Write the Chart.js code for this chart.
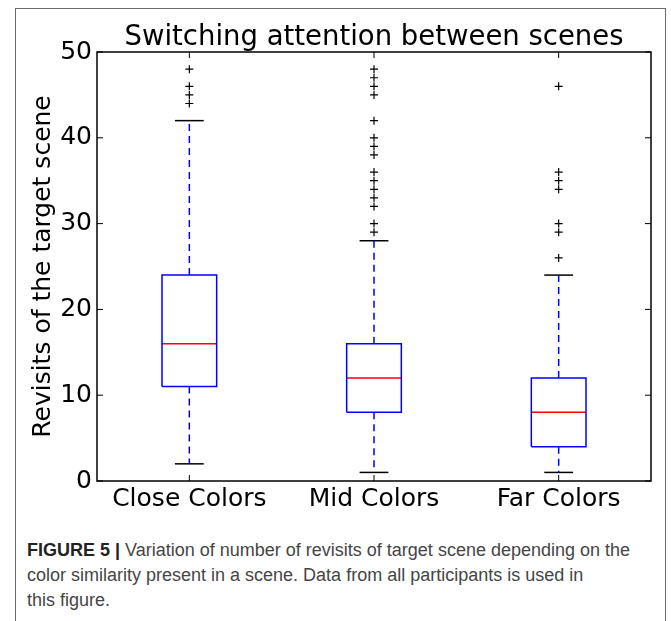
<!DOCTYPE html>
<html>
<head>
<meta charset="utf-8">
<script src="https://cdn.jsdelivr.net/npm/chart.js@4.4.1/dist/chart.umd.min.js"></script>
<style>
  html, body { margin: 0; padding: 0; background: #fff; }
  body { width: 671px; height: 621px; position: relative; overflow: hidden; }
  #frame { position: absolute; left: 15px; top: 8px; width: 651px; height: 640px; border: 1.5px solid #6a6a6a; box-sizing: border-box; }
  #wrap { position: absolute; left: 0; top: 0; width: 671px; height: 520px; }
  #caption { position: absolute; left: 27px; top: 538px; width: 640px; white-space: nowrap; font-family: "Liberation Sans", Arial, sans-serif; font-size: 18px; line-height: 25px; color: #454545; }
  #caption b { color: #222; }
</style>
</head>
<body>
<div id="frame"></div>
<div id="wrap"><canvas id="c" width="671" height="520"></canvas></div>
<div id="caption"><b>FIGURE 5 |</b> Variation of number of revisits of target scene depending on the<br>color similarity present in a scene. Data from all participants is used in<br>this figure.</div>
<script>
const categories = ['Close Colors', 'Mid Colors', 'Far Colors'];
const whiskerLow  = [2, 1, 1];
const q1          = [11, 8, 4];
const median      = [16, 12, 8];
const q3          = [24, 16, 12];
const whiskerHigh = [42, 28, 24];
const outliersClose = [44, 45, 46, 48];
const outliersMid   = [29, 30, 32, 33, 34, 35, 36, 38, 39, 40, 42, 45, 46, 47, 48];
const outliersFar   = [26, 29, 30, 34, 35, 36, 46];
const outliers = [outliersClose, outliersMid, outliersFar];
const yTicks = [0, 10, 20, 30, 40, 50];
const chartTitle = 'Switching attention between scenes';
const yTitle = 'Revisits of the target scene';

const boxHalf = 0.148;
const capHalf = 0.078;

const datasets = [];
categories.forEach((cat, i) => {
  datasets.push({ data: [{x: i, y: q3[i]}, {x: i, y: whiskerHigh[i]}], borderColor: '#0000ff', borderWidth: 1.5, borderDash: [7, 5], showLine: true, pointRadius: 0 });
  datasets.push({ data: [{x: i, y: q1[i]}, {x: i, y: whiskerLow[i]}], borderColor: '#0000ff', borderWidth: 1.5, borderDash: [7, 5], showLine: true, pointRadius: 0 });
  datasets.push({ data: [{x: i - capHalf, y: whiskerHigh[i]}, {x: i + capHalf, y: whiskerHigh[i]}], borderColor: '#000', borderWidth: 1.5, showLine: true, pointRadius: 0 });
  datasets.push({ data: [{x: i - capHalf, y: whiskerLow[i]}, {x: i + capHalf, y: whiskerLow[i]}], borderColor: '#000', borderWidth: 1.5, showLine: true, pointRadius: 0 });
  datasets.push({ data: [
      {x: i - boxHalf, y: q1[i]}, {x: i + boxHalf, y: q1[i]},
      {x: i + boxHalf, y: q3[i]}, {x: i - boxHalf, y: q3[i]},
      {x: i - boxHalf, y: q1[i]}],
    borderColor: '#0000ff', borderWidth: 1.5, showLine: true, pointRadius: 0, tension: 0 });
  datasets.push({ data: [{x: i - boxHalf, y: median[i]}, {x: i + boxHalf, y: median[i]}], borderColor: '#ff0000', borderWidth: 1.5, showLine: true, pointRadius: 0 });
  datasets.push({ data: outliers[i].map(v => ({x: i, y: v})), pointStyle: 'cross', pointRadius: 4, pointBorderColor: '#000', pointBorderWidth: 1.2, showLine: false });
});

const framePlugin = {
  id: 'framePlugin',
  afterDatasetsDraw(chart) {
    const {ctx, chartArea: a, scales} = chart;
    ctx.save();
    ctx.strokeStyle = '#000';
    ctx.lineWidth = 1.5;
    ctx.strokeRect(a.left, a.top, a.right - a.left, a.bottom - a.top);
    ctx.lineWidth = 1;
    ctx.beginPath();
    categories.forEach((c, i) => {
      const px = scales.x.getPixelForValue(i);
      ctx.moveTo(px, a.bottom); ctx.lineTo(px, a.bottom - 6);
      ctx.moveTo(px, a.top); ctx.lineTo(px, a.top + 6);
    });
    yTicks.forEach(v => {
      const py = scales.y.getPixelForValue(v);
      ctx.moveTo(a.left, py); ctx.lineTo(a.left + 6, py);
      ctx.moveTo(a.right, py); ctx.lineTo(a.right - 6, py);
    });
    ctx.stroke();
    ctx.restore();
  }
};

new Chart(document.getElementById('c'), {
  type: 'scatter',
  data: { datasets },
  options: {
    responsive: false,
    animation: false,
    layout: { padding: { left: 0, right: 20, top: 0, bottom: 0 } },
    plugins: {
      legend: { display: false },
      tooltip: { enabled: false },
      title: { display: false }
    },
    scales: {
      x: {
        type: 'linear',
        min: -0.5, max: 2.5,
        grid: { display: false, drawTicks: false },
        border: { display: false },
        afterBuildTicks(scale) { scale.ticks = categories.map((c, i) => ({ value: i })); },
        afterFit(scale) { scale.height = 39; },
        ticks: {
          color: '#000',
          font: { family: 'DejaVu Sans', size: 25 },
          padding: 3,
          maxRotation: 0,
          callback: (v) => categories[v]
        }
      },
      xTop: {
        type: 'linear',
        axis: 'x',
        position: 'top',
        min: -0.5, max: 2.5,
        grid: { display: false, drawTicks: false },
        border: { display: false },
        ticks: { display: false },
        afterFit(scale) { scale.height = 52; },
        title: {
          display: true,
          text: chartTitle,
          color: '#000',
          font: { family: 'DejaVu Sans', size: 27.5, lineHeight: 1.2 },
          padding: { top: 21, bottom: 0 }
        }
      },
      y: {
        min: 0, max: 50,
        grid: { display: false, drawTicks: false },
        border: { display: false },
        afterBuildTicks(scale) { scale.ticks = yTicks.map(v => ({ value: v })); },
        afterFit(scale) { scale.width = 97; },
        ticks: {
          color: '#000',
          font: { family: 'DejaVu Sans', size: 25 },
          padding: 5
        },
        title: {
          display: true,
          text: yTitle,
          color: '#000',
          font: { family: 'DejaVu Sans', size: 25, lineHeight: 1.2 },
          padding: { top: 28, bottom: 0 }
        }
      }
    }
  },
  plugins: [framePlugin]
});
</script>
</body>
</html>
